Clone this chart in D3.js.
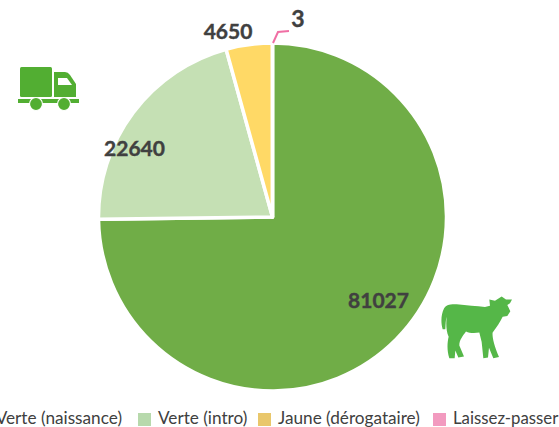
<!DOCTYPE html>
<html><head><meta charset="utf-8">
<script src="https://cdn.jsdelivr.net/npm/d3@7/dist/d3.min.js"></script>
<style>html,body{margin:0;padding:0;background:#fff;overflow:hidden}svg{display:block}text{font-family:Lato,"Open Sans",sans-serif}</style>
</head><body><svg id="c" width="559" height="427"></svg>
<script>
const categories=["Verte (naissance)","Verte (intro)","Jaune (dérogataire)","Laissez-passer"];
const values=[81027,22640,4650,3];
const sliceColors=["#70AD47","#C5E0B4","#FFD966","#F06FA4"];
const legendColors=["#70AD47","#B7D9AC","#E9C76B","#F29ABF"];
const labelX=[378.5,134.5,228,298];
const labelY=[299,147,30,18];
const legendX=[-18,138,258,433];

const svg=d3.select("#c");
const cx=272.5,cy=217,R=174;
const pie=d3.pie().sort(null).value(d=>d)(values);
const arc=d3.arc().innerRadius(0).outerRadius(R);
const g=svg.append("g").attr("transform",`translate(${cx},${cy})`);
g.selectAll("path").data(pie).join("path")
 .attr("d",arc).attr("fill",(d,i)=>sliceColors[i])
 .attr("stroke","#fff").attr("stroke-width",3.5).attr("stroke-linejoin","round");

svg.append("polyline").attr("points","273,43 278,32 289,31")
 .attr("fill","none").attr("stroke","#F06FA4").attr("stroke-width",2);

svg.selectAll("text.v").data(values).join("text").attr("class","v")
 .attr("x",(d,i)=>labelX[i]).attr("y",(d,i)=>labelY[i])
 .attr("text-anchor","middle").attr("dominant-baseline","central")
 .attr("font-size",(d,i)=>i===3?23:21).attr("font-weight",700).attr("fill","#404040")
 .attr("stroke","#404040").attr("stroke-width",0.4)
 .text(d=>d);

const leg=svg.append("g");
categories.forEach((c,i)=>{
  if(i>0) leg.append("rect").attr("x",legendX[i]).attr("y",413).attr("width",13).attr("height",13).attr("fill",legendColors[i]);
  leg.append("text").attr("x",i===0?122:legendX[i]+20).attr("y",424)
    .attr("text-anchor",i===0?"end":"start").attr("font-size",i===3?16.8:17.2).attr("fill","#404040").text(c);
});

// truck icon
const t=svg.append("g").attr("fill","#52AE32");
t.append("rect").attr("x",20).attr("y",67).attr("width",32).attr("height",30).attr("rx",1.5);
t.append("path").attr("d","M54 72 H65 Q68 72 70 75 L76 84 V97 H54 Z");
t.append("path").attr("d","M58 78 H67 L72 85 H58 Z").attr("fill","#fff");
t.append("rect").attr("x",18).attr("y",99).attr("width",61).attr("height",4);
[36,64].forEach(x=>t.append("circle").attr("cx",x).attr("cy",104).attr("r",6.5).attr("stroke","#fff").attr("stroke-width",1.2));

// calf icon
svg.append("path").attr("transform","translate(430,285) scale(0.3333,0.345)").attr("fill","#55B748")
 .attr("d","M38 128 C32 110 33 85 42 68 C50 56 62 56 80 56 C110 60 140 60 165 64 L180 60 L178 42 L195 46 L215 33 L228 42 L246 42 L240 53 L232 58 L241 76 L232 90 L218 92 C210 108 200 122 188 138 C186 150 192 175 207 209 L190 212 L177 182 L174 210 L160 212 L155 165 L148 138 C135 140 118 140 108 135 C98 148 88 160 88 175 L102 207 L85 210 L76 190 L74 212 L58 212 C50 190 52 165 56 150 C48 135 48 110 50 92 C47 100 47 115 46 128 Z");
</script></body></html>
